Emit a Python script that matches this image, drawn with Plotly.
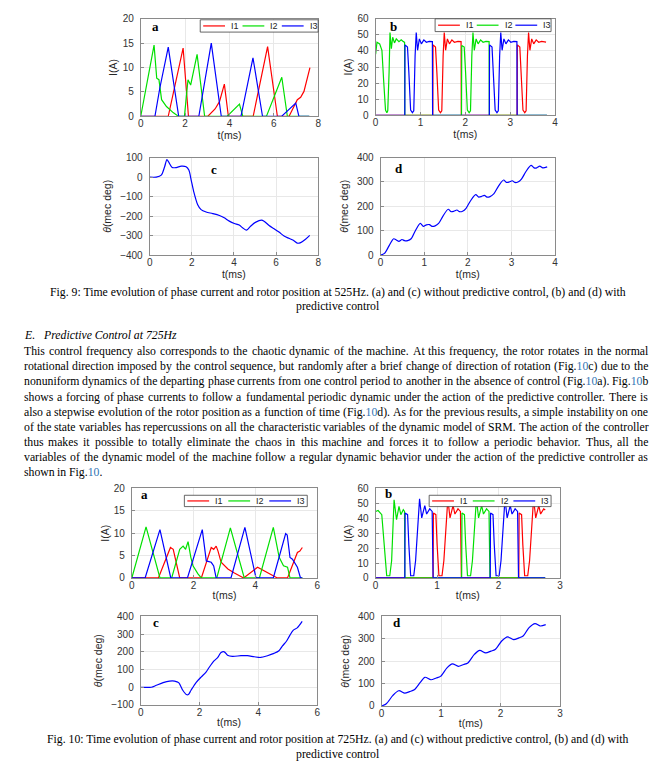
import plotly.graph_objects as go

W, H = 672, 772

# ---------------- Fig. 9 (525 Hz) ----------------
# (a) phase currents without control
t9a_i1 = [0, 1.24, 1.91, 2.15, 3.03, 3.35, 3.55, 3.77, 3.95, 5.07, 5.72, 6.16, 6.69, 7.06, 7.21, 7.36, 7.63]
i9a_i1 = [0, 0, 14.0, 0, 0, 1.5, 3.0, 6.6, 0, 0, 14.3, 0, 0, 3.4, 3.9, 5.1, 10.0]
t9a_i2 = [0, 0.6, 0.72, 0.82, 0.94, 1.16, 1.46, 1.69, 1.97, 2.13, 2.25, 2.54, 2.88, 3.9, 4.45, 4.6, 5.67, 6.36, 6.61, 7.6]
i9a_i2 = [0, 14.6, 7.8, 7.5, 3.4, 2.0, 0.75, 0, 0, 7.5, 6.4, 12.7, 0, 0, 2.5, 0, 0, 8.0, 0, 0]
t9a_i3 = [0, 0.64, 0.86, 1.24, 1.71, 2.62, 3.18, 3.63, 4.52, 4.75, 5.06, 5.49, 6.36, 6.99, 7.13, 7.6]
i9a_i3 = [0, 0, 5.8, 14.2, 0, 0, 15.0, 0, 0, 5.1, 12.0, 0, 0, 2.7, 0, 0]

# (b) phase currents with predictive control
t9b_i1 = [0, 1.275, 1.28, 1.335, 1.365, 1.405, 1.445, 1.475, 1.505, 1.53, 1.56, 1.6, 1.645, 1.7, 1.755, 1.835, 1.905, 1.91,
          3.155, 3.16, 3.215, 3.245, 3.285, 3.325, 3.355, 3.385, 3.41, 3.44, 3.48, 3.525, 3.58, 3.635, 3.7, 3.8]
i9b_i1 = [0, 0, 43.8, 42.4, 27, 3.2, 1.6, 2.8, 37, 51.5, 40.4, 47.5, 44.4, 46.9, 45.4, 46, 45.8, 0,
          0, 43.8, 42.4, 27, 3.2, 1.6, 2.8, 37, 51.5, 40.4, 47.5, 44.4, 46.9, 45.4, 46, 45.5]
t9b_i2 = [0, 0.03, 0.09, 0.14, 0.18, 0.22, 0.25, 0.27, 0.3, 0.32, 0.35, 0.38, 0.42, 0.46, 0.52, 0.57, 0.62, 0.645, 0.65,
          1.915, 1.92, 1.975, 2.005, 2.045, 2.085, 2.115, 2.145, 2.17, 2.2, 2.24, 2.285, 2.34, 2.395, 2.46, 2.53, 2.535, 3.82]
i9b_i2 = [38, 45.4, 44.4, 40.4, 21, 3.2, 1.6, 2.8, 27, 51.5, 41.4, 48.5, 45, 47.5, 45.8, 46.9, 45.8, 45.4, 0,
          0, 43.4, 42.4, 27, 3.2, 1.6, 2.8, 37, 51.5, 40.4, 47.5, 44.4, 46.9, 45.4, 46, 45.8, 0, 0]
t9b_i3 = [0, 0.65, 0.655, 0.71, 0.74, 0.78, 0.82, 0.85, 0.88, 0.905, 0.935, 0.975, 1.02, 1.075, 1.13, 1.195, 1.265, 1.27,
          2.535, 2.54, 2.595, 2.625, 2.665, 2.705, 2.735, 2.765, 2.79, 2.82, 2.86, 2.905, 2.96, 3.015, 3.08, 3.15, 3.155, 3.82]
i9b_i3 = [0, 0, 43.8, 42.4, 27, 3.2, 1.6, 2.8, 37, 51.5, 40.4, 47.5, 44.4, 46.9, 45.4, 46, 45.8, 0,
          0, 43.8, 42.4, 27, 3.2, 1.6, 2.8, 37, 51.5, 40.4, 47.5, 44.4, 46.9, 45.4, 46, 45.8, 0, 0]

# (c) rotor position without control
t9c = [0, 0.31, 0.55, 0.71, 0.82, 0.94, 1.07, 1.26, 1.5, 1.73, 1.86, 1.97, 2.09, 2.28, 2.44, 2.68, 2.99, 3.31, 3.54,
       3.78, 4.02, 4.25, 4.41, 4.6, 4.8, 5.04, 5.31, 5.43, 5.67, 5.91, 6.14, 6.38, 6.61, 6.82, 7.01, 7.17, 7.4, 7.6]
th9c = [0, 0, 10, 53, 90, 70, 49, 49, 56, 53, 36, -15, -74, -142, -167, -179, -187, -197, -209,
        -226, -238, -246, -260, -272, -251, -231, -221, -226, -248, -265, -282, -302, -314, -324, -339, -336, -319, -299]

# (d) rotor position with control
t9d = [0, 0.09, 0.2, 0.3, 0.36, 0.42, 0.49, 0.55, 0.62, 0.7, 0.8, 0.91, 0.98, 1.05, 1.12, 1.18, 1.25, 1.33, 1.43,
       1.55, 1.62, 1.68, 1.75, 1.81, 1.88, 1.96, 2.06, 2.18, 2.25, 2.31, 2.38, 2.44, 2.51, 2.6, 2.7, 2.82, 2.89,
       2.95, 3.02, 3.08, 3.15, 3.23, 3.33, 3.45, 3.52, 3.58, 3.65, 3.72, 3.82]
th9d = [0, 7, 40, 67, 62, 56, 64, 59, 59, 67, 101, 130, 118, 124, 125, 118, 120, 130, 160,
        188, 178, 180, 185, 178, 180, 192, 222, 248, 238, 240, 245, 238, 240, 252, 282, 308, 298,
        300, 305, 298, 300, 312, 342, 368, 358, 358, 365, 358, 362]

# ---------------- Fig. 10 (725 Hz) ----------------
t10a_i1 = [0, 0.86, 1.25, 1.34, 1.55, 2.25, 2.57, 2.65, 2.73, 2.79, 2.89, 3.11, 3.32, 3.62, 4.07, 4.29, 4.61, 4.71, 5.04, 5.25, 5.36, 5.44, 5.52]
i10a_i1 = [0, 0, 6.8, 6.4, 0, 0, 6.8, 6.4, 7.1, 6.0, 3.5, 2.0, 1.1, 0, 2.4, 1.6, 0.5, 0, 0, 3.8, 5.7, 6.0, 6.8]
t10a_i2 = [0, 0.46, 0.91, 1.29, 1.55, 1.66, 1.74, 1.82, 1.91, 1.98, 2.14, 2.25, 2.75, 3.19, 3.64, 4.13, 4.58, 4.77, 4.91, 5.04, 5.12, 5.52]
i10a_i2 = [0, 11.4, 0, 0, 6.4, 7.1, 6.4, 8.1, 4.6, 2.7, 0.9, 0, 0, 11.2, 0, 0, 11.3, 4.6, 2.7, 2.4, 0, 0]
t10a_i3 = [0, 0.43, 0.91, 1.26, 1.8, 2.28, 2.41, 2.57, 2.65, 2.73, 3.21, 3.66, 4.02, 4.58, 4.98, 5.03, 5.12, 5.2, 5.36, 5.46, 5.52]
i10a_i3 = [0, 0, 10.8, 0, 0, 10.8, 3.8, 3.5, 2.7, 0, 0, 11.3, 0, 0, 9.9, 9.6, 4.6, 4.2, 2.4, 0, 0]

t10b_i1 = [0, 0.935, 0.94, 0.98, 1.0, 1.03, 1.08, 1.11, 1.175, 1.21, 1.26, 1.29, 1.34, 1.38, 1.395,
           2.33, 2.335, 2.375, 2.395, 2.425, 2.475, 2.505, 2.57, 2.605, 2.655, 2.685, 2.735, 2.76]
i10b_i1 = [0, 0, 43.5, 42.4, 22.5, 1.5, 1.5, 11.5, 53, 40.2, 48.5, 42.8, 46.3, 44.6, 0,
           0, 43.5, 42.4, 22.5, 1.5, 1.5, 11.5, 53, 40.2, 48.5, 42.8, 46.3, 45.5]
t10b_i2 = [0, 0.04, 0.1, 0.14, 0.18, 0.23, 0.26, 0.3, 0.34, 0.38, 0.41, 0.45, 0.47, 0.475,
           1.4, 1.405, 1.445, 1.465, 1.495, 1.545, 1.575, 1.64, 1.675, 1.725, 1.755, 1.805, 1.845, 1.86, 2.76]
i10b_i2 = [44.5, 45.2, 42.4, 22.5, 1.5, 1.5, 11.5, 52.3, 39, 47.9, 42.4, 45.7, 44.6, 0,
           0, 43.5, 42.4, 22.5, 1.5, 1.5, 11.5, 53, 40.2, 48.5, 42.8, 46.3, 44.6, 0, 0]
t10b_i3 = [0, 0.475, 0.48, 0.52, 0.54, 0.57, 0.62, 0.65, 0.715, 0.75, 0.8, 0.83, 0.88, 0.92, 0.935,
           1.865, 1.87, 1.91, 1.93, 1.96, 2.01, 2.04, 2.105, 2.14, 2.19, 2.22, 2.27, 2.31, 2.325, 2.76]
i10b_i3 = [0, 0, 43.5, 42.4, 22.5, 1.5, 1.5, 11.5, 53, 40.2, 48.5, 42.8, 46.3, 44.6, 0,
           0, 43.5, 42.4, 22.5, 1.5, 1.5, 11.5, 53, 40.2, 48.5, 42.8, 46.3, 44.6, 0, 0]

t10c = [0, 0.36, 0.53, 0.76, 0.98, 1.15, 1.29, 1.43, 1.55, 1.62, 1.71, 1.88, 2.05, 2.22, 2.33, 2.5, 2.62, 2.73,
        2.84, 2.95, 3.12, 3.41, 3.63, 3.86, 4.08, 4.31, 4.53, 4.7, 4.82, 4.96, 5.07, 5.19, 5.32, 5.49]
th10c = [0, 0, 11, 26, 35, 35, 26, -17, -41, -41, -17, 26, 57, 85, 113, 150, 168, 196,
         200, 181, 174, 178, 178, 172, 168, 178, 191, 206, 233, 261, 293, 322, 335, 372]

t10d = [0, 0.08, 0.19, 0.29, 0.39, 0.47, 0.55, 0.65, 0.73, 0.83, 0.92, 0.99, 1.1, 1.19, 1.29, 1.38, 1.45, 1.56,
        1.65, 1.75, 1.84, 1.91, 2.02, 2.12, 2.22, 2.31, 2.38, 2.48, 2.58, 2.67, 2.76]
th10d = [0, 10, 47, 68, 57, 64, 72, 105, 128, 117, 125, 132, 170, 188, 177, 185, 192, 230,
         248, 237, 245, 252, 290, 308, 296, 304, 312, 350, 368, 357, 363]

series_names = ["I1", "I2", "I3"]

# ---------------- text ----------------
cap9 = ["Fig. 9: Time evolution of phase current and rotor position at 525Hz. (a) and (c) without predictive control, (b) and (d) with",
        "predictive control"]
cap10 = ["Fig. 10: Time evolution of phase current and rotor position at 725Hz. (a) and (c) without predictive control, (b) and (d) with",
         "predictive control"]
heading = ["E.", "Predictive Control at 725Hz"]
para = [
    "This control frequency also corresponds to the chaotic dynamic of the machine. At this frequency, the rotor rotates in the normal",
    "rotational direction imposed by the control sequence, but randomly after a brief change of direction of rotation (Fig.{10}c) due to the",
    "nonuniform dynamics of the departing phase currents from one control period to another in the absence of control (Fig.{10}a). Fig.{10}b",
    "shows a forcing of phase currents to follow a fundamental periodic dynamic under the action of the predictive controller. There is",
    "also a stepwise evolution of the rotor position as a function of time (Fig.{10}d). As for the previous results, a simple instability on one",
    "of the state variables has repercussions on all the characteristic variables of the dynamic model of SRM. The action of the controller",
    "thus makes it possible to totally eliminate the chaos in this machine and forces it to follow a periodic behavior. Thus, all the",
    "variables of the dynamic model of the machine follow a regular dynamic behavior under the action of the predictive controller as",
    "shown in Fig.{10}.",
]
LINK = "<span style='color:#2e74b5'>10</span>"

RED, GREEN, BLUE = "#ff0000", "#00e000", "#0000ff"
COLORS = [RED, GREEN, BLUE]
SANS = "Liberation Sans"
SERIF = "Liberation Serif"

def xd(a, b):
    return [a / W, b / W]

def yd(top, bot):
    return [1 - bot / H, 1 - top / H]

panels = [
    dict(k=1, xdom=xd(139, 318), ydom=yd(13, 112), xr=[0, 8], xdt=2, yr=[0, 20], ydt=5, yt="I(A)", lab="a", lp=(154, 21)),
    dict(k=2, xdom=xd(376, 557), ydom=yd(13, 111), xr=[0, 4], xdt=1, yr=[0, 60], ydt=10, yt="I(A)", lab="b", lp=(394, 21)),
    dict(k=3, xdom=xd(148, 318), ydom=yd(154, 253), xr=[0, 8], xdt=2, yr=[-400, 100], ydt=100, yt="<i>θ</i>(mec deg)", lab="c", lp=(213, 166)),
    dict(k=4, xdom=xd(381, 557), ydom=yd(154, 253), xr=[0, 4], xdt=1, yr=[0, 400], ydt=100, yt="<i>θ</i>(mec deg)", lab="d", lp=(400, 165)),
    dict(k=5, xdom=xd(130, 317), ydom=yd(490, 581), xr=[0, 6], xdt=2, yr=[0, 20], ydt=5, yt="I(A)", lab="a", lp=(143, 496)),
    dict(k=6, xdom=xd(376, 562), ydom=yd(490, 581), xr=[0, 3], xdt=1, yr=[0, 60], ydt=10, yt="I(A)", lab="b", lp=(389, 495)),
    dict(k=7, xdom=xd(139, 317), ydom=yd(620, 710), xr=[0, 6], xdt=2, yr=[-100, 400], ydt=100, yt="<i>θ</i>(mec deg)", lab="c", lp=(154, 626)),
    dict(k=8, xdom=xd(382, 562), ydom=yd(620, 711), xr=[0, 3], xdt=1, yr=[0, 400], ydt=100, yt="<i>θ</i>(mec deg)", lab="d", lp=(398, 626)),
]

# legend boxes (left, top, width, height) in page pixels
legend_boxes = {1: (199, 14, 119, 12.5), 2: (436, 13, 117, 13), 5: (183, 497, 124, 11.5), 6: (430, 497, 123, 11.5)}

fig = go.Figure()

def cur(k, t1, y1, t2, y2, t3, y3):
    for nm, t, y, c in zip(series_names, (t1, t2, t3), (y1, y2, y3), COLORS):
        fig.add_trace(go.Scatter(x=t, y=y, mode="lines", name=nm, line=dict(color=c, width=1.2),
                                 xaxis="x%d" % k, yaxis="y%d" % k, showlegend=False, hoverinfo="skip"))

def pos(k, t, th):
    fig.add_trace(go.Scatter(x=t, y=th, mode="lines", name="θ", line=dict(color=BLUE, width=1.2, shape="spline", smoothing=0.8),
                             xaxis="x%d" % k, yaxis="y%d" % k, showlegend=False, hoverinfo="skip"))

cur(1, t9a_i1, i9a_i1, t9a_i2, i9a_i2, t9a_i3, i9a_i3)
cur(2, t9b_i1, i9b_i1, t9b_i2, i9b_i2, t9b_i3, i9b_i3)
pos(3, t9c, th9c)
pos(4, t9d, th9d)
cur(5, t10a_i1, i10a_i1, t10a_i2, i10a_i2, t10a_i3, i10a_i3)
cur(6, t10b_i1, i10b_i1, t10b_i2, i10b_i2, t10b_i3, i10b_i3)
pos(7, t10c, th10c)
pos(8, t10d, th10d)

layout = dict(width=W, height=H, margin=dict(l=0, r=0, t=0, b=0), paper_bgcolor="white", plot_bgcolor="white",
              font=dict(family=SANS, size=10, color="#262626"), showlegend=False)

AX = "#8a8a8a"
for p in panels:
    k = p["k"]
    sfx = "" if k == 1 else str(k)
    layout["xaxis" + sfx] = dict(domain=p["xdom"], range=p["xr"], dtick=p["xdt"], tick0=0, anchor="y" + str(k),
                                 showline=True, mirror=True, linecolor=AX, linewidth=1, ticks="inside", ticklen=3,
                                 tickcolor=AX, showgrid=True, gridcolor="#e8e8e8", gridwidth=1, zeroline=False,
                                 tickfont=dict(family=SANS, size=10, color="#333333"), ticklabelstandoff=-2,
                                 title=dict(text="t(ms)", font=dict(family=SANS, size=10.5, color="#262626"), standoff=1))
    layout["yaxis" + sfx] = dict(domain=p["ydom"], range=p["yr"], dtick=p["ydt"], tick0=0, anchor="x" + str(k),
                                 showline=True, mirror=True, linecolor=AX, linewidth=1, ticks="inside", ticklen=3,
                                 tickcolor=AX, showgrid=True, gridcolor="#e8e8e8", gridwidth=1, zeroline=False,
                                 tickfont=dict(family=SANS, size=10, color="#333333"), ticklabelstandoff=4,
                                 title=dict(text=p["yt"], font=dict(family=SANS, size=10.5, color="#262626"),
                                            standoff=(6 if "θ" in p["yt"] else 2)))

shapes = []
ann = []
for k, (x0, y0, w, h) in legend_boxes.items():
    shapes.append(dict(type="rect", xref="paper", yref="paper", x0=x0 / W, x1=(x0 + w) / W,
                       y0=1 - (y0 + h) / H, y1=1 - y0 / H, line=dict(color="#404040", width=0.8),
                       fillcolor="white", layer="above"))
    step = w / 3
    ym = 1 - (y0 + h / 2) / H
    for i, (nm, c) in enumerate(zip(series_names, COLORS)):
        sx = x0 + i * step + 3
        shapes.append(dict(type="line", xref="paper", yref="paper", x0=sx / W, x1=(sx + 22) / W, y0=ym, y1=ym,
                           line=dict(color=c, width=1.2), layer="above"))
        ann.append(dict(text=nm, x=(sx + 26) / W, y=ym, xref="paper", yref="paper", xanchor="left", yanchor="middle",
                        showarrow=False, font=dict(family=SANS, size=9, color="#262626")))

for p in panels:
    ann.append(dict(text="<b>%s</b>" % p["lab"], x=p["lp"][0] / W, y=1 - p["lp"][1] / H, xref="paper", yref="paper",
                    xanchor="center", yanchor="middle", showarrow=False, font=dict(family=SERIF, size=13, color="black")))

FS = 11.75
TF = dict(family=SERIF, size=FS, color="black")

# Times / Liberation Serif advance widths (1/1000 em), used to justify paragraph lines
TW = {" ": 250, ".": 250, ",": 250, "(": 333, ")": 333, "-": 333, ":": 278, ";": 278,
      "a": 444, "b": 500, "c": 444, "d": 500, "e": 444, "f": 333, "g": 500, "h": 500, "i": 278, "j": 278,
      "k": 500, "l": 278, "m": 778, "n": 500, "o": 500, "p": 500, "q": 500, "r": 333, "s": 389, "t": 278,
      "u": 500, "v": 500, "w": 722, "x": 500, "y": 500, "z": 444,
      "A": 722, "B": 667, "C": 667, "D": 722, "E": 611, "F": 556, "G": 722, "H": 722, "I": 333, "M": 889,
      "R": 667, "S": 556, "T": 611}

def tw(s):
    return sum(TW.get(c, 500) for c in s) * FS / 1000

def note(txt, x, y, anchor="left"):
    ann.append(dict(text=txt, x=x / W, y=1 - y / H, xref="paper", yref="paper", xanchor=anchor, yanchor="middle",
                    showarrow=False, font=TF, align=anchor, borderpad=0, borderwidth=0))

note(cap9[0], 338, 291, "center")
note(cap9[1], 338, 305, "center")
note("<i>%s</i>" % heading[0], 21, 335)
note("<i>%s</i>" % heading[1], 40, 335)

LEFT, RIGHT = 21, 651
for i, s in enumerate(para):
    y = 351 + i * 15.4
    words = s.split(" ")
    plain = [wd.replace("{10}", "10") for wd in words]
    widths = [tw(p) for p in plain]
    if i < len(para) - 1:
        gap = (RIGHT - LEFT - sum(widths)) / (len(words) - 1)
    else:
        gap = tw(" ")
    x = LEFT
    for wd, wdt in zip(words, widths):
        note(wd.replace("{10}", LINK), x, y)
        x += wdt + gap

note(cap10[0], 338, 745, "center")
note(cap10[1], 338, 760, "center")

layout["annotations"] = ann
layout["shapes"] = shapes
fig.update_layout(**layout)
fig.write_html("out.html", config={"displayModeBar": False},
               post_script="document.body.style.margin='0';document.body.style.overflow='hidden';")
